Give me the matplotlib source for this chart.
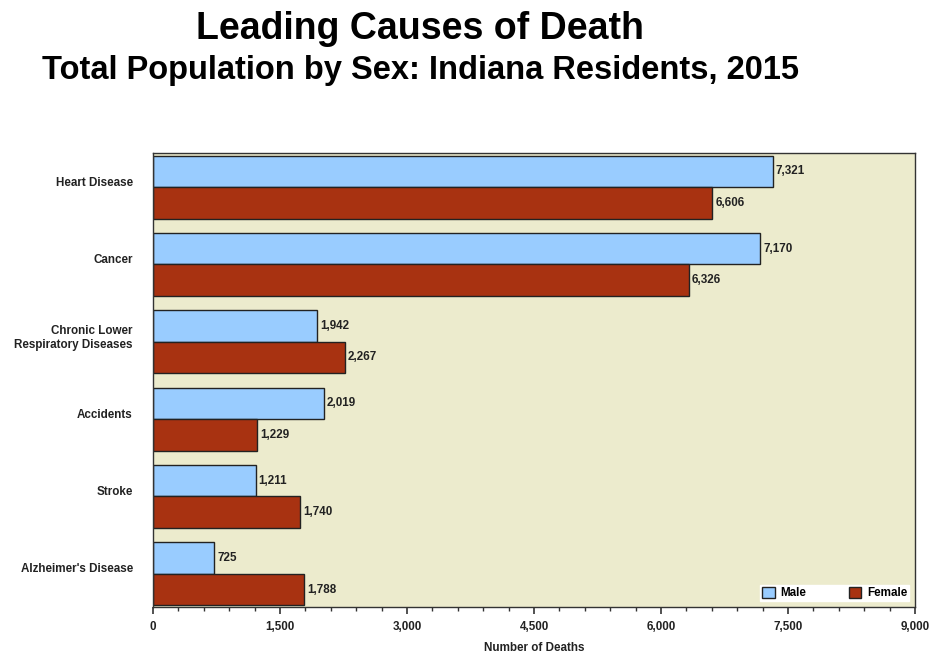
import matplotlib
matplotlib.use("Agg")
import matplotlib.pyplot as plt
from matplotlib.ticker import MultipleLocator, FuncFormatter
import numpy as np

plt.rcParams['font.family'] = ['Liberation Sans', 'DejaVu Sans']

causes = ["Heart Disease", "Cancer", "Chronic Lower\nRespiratory Diseases",
          "Accidents", "Stroke", "Alzheimer's Disease"]
male = [7321, 7170, 1942, 2019, 1211, 725]
female = [6606, 6326, 2267, 1229, 1740, 1788]
series_names = ["Male", "Female"]
x_ticks = [0, 1500, 3000, 4500, 6000, 7500, 9000]

male_color = "#99CCFF"
female_color = "#A83211"
bg_color = "#ECEBCD"
edge = "#222222"
txt = "#222222"
fs = 8.4

fig = plt.figure(figsize=(9.32, 6.56), dpi=100)
ax = fig.add_axes([153/932, 1-607/656, (915-153)/932, (607-153)/656])
ax.set_facecolor(bg_color)

y = np.arange(len(causes))
h = 0.4075
bm = ax.barh(y - h/2, male, height=h, color=male_color, edgecolor=edge, linewidth=1.0, label=series_names[0])
bf = ax.barh(y + h/2, female, height=h, color=female_color, edgecolor=edge, linewidth=1.0, label=series_names[1])

for bars, vals in ((bm, male), (bf, female)):
    for b, v in zip(bars, vals):
        ax.text(v + 35, b.get_y() + b.get_height()/2, f"{v:,}", va="center", ha="left",
                fontsize=fs, fontweight="bold", color=txt)

ax.set_xlim(0, 9000)
ax.set_ylim(5.43, -0.44)
# category labels sit slightly above the middle of each pair of bars
ax.set_yticks(y - 0.075)
ax.set_yticklabels(causes, fontsize=fs, fontweight="bold", color=txt)
ax.tick_params(axis="y", length=0, pad=14.5)
ax.set_xticks(x_ticks)
ax.xaxis.set_major_formatter(FuncFormatter(lambda v, p: f"{int(v):,}"))
ax.xaxis.set_minor_locator(MultipleLocator(300))
ax.tick_params(axis="x", which="major", length=5, width=1.2, color="#333333",
               labelsize=fs, pad=5, labelcolor=txt)
ax.tick_params(axis="x", which="minor", length=3, width=1.0, color="#333333")
for lbl in ax.get_xticklabels():
    lbl.set_fontweight("bold")
for s in ax.spines.values():
    s.set_color("#333333")
    s.set_linewidth(1.0)

fig.text(534/932, 1-648/656, "Number of Deaths", ha="center", va="center",
         fontsize=fs, fontweight="bold", color=txt)

leg = ax.legend(loc="lower right", ncol=2, frameon=True, fancybox=False,
                edgecolor="white", facecolor="white", framealpha=1,
                handlelength=1.1, handleheight=1.1, columnspacing=3.6, handletextpad=0.5,
                borderpad=0.15, borderaxespad=0.5, prop={"weight": "bold", "size": fs})

fig.text(420/932, 1-29/656, "Leading Causes of Death", ha="center", va="center",
         fontsize=27, fontweight="bold", color="black")
fig.text(420/932, 1-70/656, "Total Population by Sex: Indiana Residents, 2015", ha="center", va="center",
         fontsize=23.5, fontweight="bold", color="black")

fig.savefig("out.png", dpi=100, facecolor="white")
